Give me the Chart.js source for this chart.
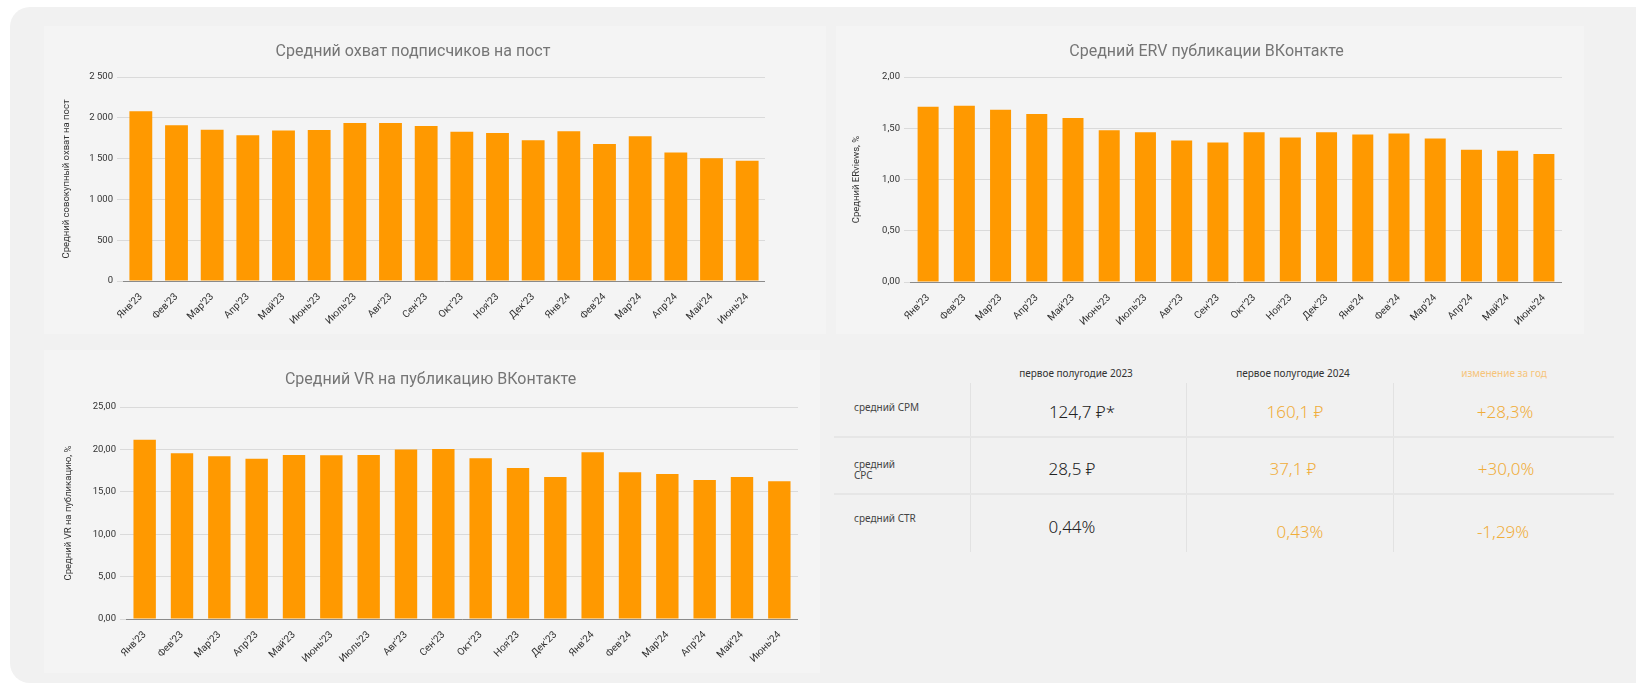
<!DOCTYPE html>
<html>
<head>
<meta charset="utf-8">
<script src="https://cdn.jsdelivr.net/npm/chart.js@4.4.1/dist/chart.umd.min.js"></script>
<style>
body { margin: 0; background: #fff; width: 1636px; height: 687px; overflow: hidden; position: relative; font-family: Roboto, sans-serif; }
.wrap { position: absolute; left: 10px; top: 7px; width: 1660px; height: 676px; background: #f1f1f1; border-radius: 20px; }
.card { position: absolute; background: #f4f4f4; }
canvas { position: absolute; }
.t { position: absolute; transform: translate(-50%, -50%); white-space: nowrap; font-family: "Noto Sans", sans-serif; }
.h { font-size: 10px; color: #333; }
.lab { position: absolute; transform: translateY(-50%); font-family: "Noto Sans", sans-serif; font-size: 10px; color: #444; line-height: 11px; }
.v { font-size: 17px; color: #222; font-weight: 300; }
.o { color: #f0ad3a; }
.vl { position: absolute; width: 1px; background: #e2e2e2; top: 383px; height: 169px; }
.hl { position: absolute; height: 2px; background: #e6e6e6; left: 834px; width: 780px; }
</style>
</head>
<body>
<div class="wrap"></div>
<div class="card" style="left:44px;top:26px;width:782px;height:308px"></div>
<div class="card" style="left:836px;top:26px;width:748px;height:308px"></div>
<div class="card" style="left:44px;top:350px;width:776px;height:323px"></div>

<canvas id="reach" width="704" height="308" style="left:61px;top:26px"></canvas>
<canvas id="erv" width="711" height="308" style="left:851px;top:26px"></canvas>
<canvas id="vr" width="735" height="318" style="left:63px;top:350px"></canvas>

<div class="vl" style="left:970px"></div>
<div class="vl" style="left:1186px"></div>
<div class="vl" style="left:1393px"></div>
<div class="hl" style="top:436px"></div>
<div class="hl" style="top:493px"></div>

<div class="t h" style="left:1076px;top:373px">первое полугодие 2023</div>
<div class="t h" style="left:1293px;top:373px">первое полугодие 2024</div>
<div class="t h" style="left:1504px;top:373px;color:#f6c47a">изменение за год</div>

<div class="lab" style="left:854px;top:407px">средний CPM</div>
<div class="lab" style="left:854px;top:470px">средний<br>CPC</div>
<div class="lab" style="left:854px;top:518px">средний CTR</div>

<div class="t v" style="left:1082px;top:411px">124,7 ₽*</div>
<div class="t v o" style="left:1295px;top:411px">160,1 ₽</div>
<div class="t v o" style="left:1505px;top:411px">+28,3%</div>
<div class="t v" style="left:1072px;top:468px">28,5 ₽</div>
<div class="t v o" style="left:1293px;top:468px">37,1 ₽</div>
<div class="t v o" style="left:1506px;top:468px">+30,0%</div>
<div class="t v" style="left:1072px;top:526px">0,44%</div>
<div class="t v o" style="left:1300px;top:531px">0,43%</div>
<div class="t v o" style="left:1503px;top:531px">-1,29%</div>

<script>
const months = ["Янв'23", "Фев'23", "Мар'23", "Апр'23", "Май'23", "Июнь'23", "Июль'23", "Авг'23", "Сен'23",
  "Окт'23", "Ноя'23", "Дек'23", "Янв'24", "Фев'24", "Мар'24", "Апр'24", "Май'24", "Июнь'24"];
const reach = [2080, 1910, 1855, 1785, 1845, 1850, 1935, 1935, 1900, 1830, 1815, 1725, 1835, 1680, 1775, 1575, 1505, 1475];
const erv = [1.71, 1.72, 1.68, 1.64, 1.60, 1.48, 1.46, 1.38, 1.36, 1.46, 1.41, 1.46, 1.44, 1.45, 1.40, 1.29, 1.28, 1.25];
const vr = [21.15, 19.55, 19.2, 18.9, 19.35, 19.3, 19.35, 20.0, 20.05, 18.95, 17.8, 16.75, 19.65, 17.3, 17.1, 16.4, 16.75, 16.25];

Chart.defaults.font.family = 'Roboto';

const spaced = v => String(v).replace(/\B(?=(\d{3})+(?!\d))/g, ' ');
const comma = v => v.toFixed(2).replace('.', ',');

function makeChart(id, values, o) {
  return new Chart(document.getElementById(id), {
    type: 'bar',
    data: {
      labels: months,
      datasets: [{ data: values, backgroundColor: '#ff9900', barPercentage: o.bar, categoryPercentage: 1 }]
    },
    options: {
      responsive: false,
      animation: false,
      layout: { padding: 0 },
      plugins: {
        legend: { display: false },
        tooltip: { enabled: false },
        title: {
          display: true, text: o.title, color: '#757575',
          font: { size: 16, weight: 'normal' },
          padding: { top: o.tTop, bottom: o.tBot }
        }
      },
      scales: {
        x: {
          grid: { display: false },
          border: { color: '#8a8a8a' },
          ticks: { autoSkip: false, minRotation: 45, maxRotation: 45, color: '#333', font: { size: 10 }, padding: 2 },
          afterFit: s => { s.height = o.xH; }
        },
        y: {
          min: 0, max: o.max,
          border: { display: false },
          grid: { color: '#dadada', tickLength: 6 },
          ticks: { stepSize: o.step, color: '#333', font: { size: 9.5 }, padding: 4, callback: o.fmt },
          title: { display: true, text: o.yTitle, color: '#333', font: { size: 9.5 }, padding: 0 },
          afterFit: s => { s.width = o.yW; }
        }
      }
    }
  });
}

makeChart('reach', reach, {
  title: 'Средний охват подписчиков на пост', yTitle: 'Средний совокупный охват на пост',
  max: 2500, step: 500, fmt: spaced, bar: 0.64, yW: 62, xH: 53, tTop: 16.4, tBot: 15.4
});
makeChart('erv', erv, {
  title: 'Средний ERV публикации ВКонтакте', yTitle: 'Средний ERviews, %',
  max: 2, step: 0.5, fmt: comma, bar: 0.58, yW: 59, xH: 52, tTop: 16.4, tBot: 15.4
});
makeChart('vr', vr, {
  title: 'Средний VR на публикацию ВКонтакте', yTitle: 'Средний VR на публикацию, %',
  max: 25, step: 5, fmt: comma, bar: 0.60, yW: 63, xH: 49, tTop: 20.4, tBot: 17.4
});
</script>
</body>
</html>
